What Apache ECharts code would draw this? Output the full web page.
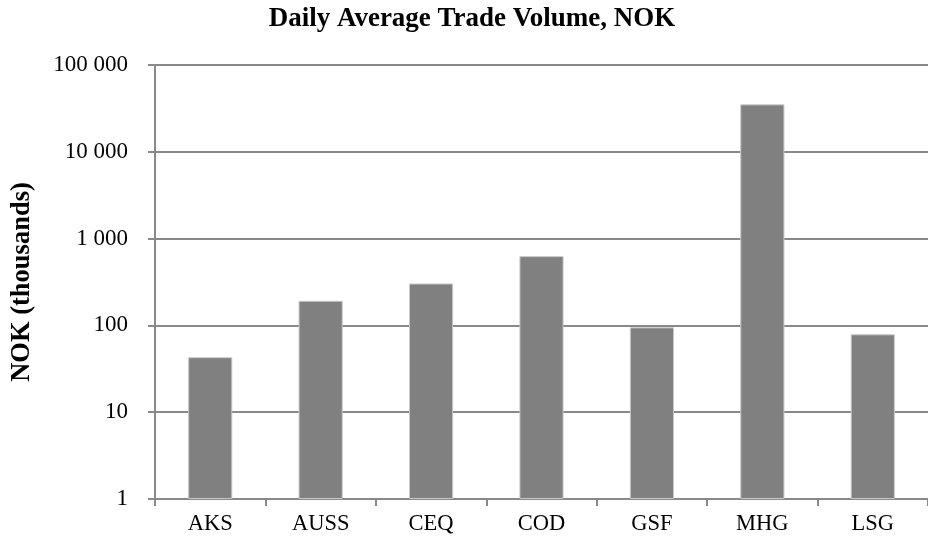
<!DOCTYPE html>
<html>
<head>
    <meta charset="utf-8">
    <title>Daily Average Trade Volume, NOK</title>
    <style>
        html, body { margin: 0; padding: 0; background: #fff; }
    </style>
</head>
<body>
    <div id="main" style="width:928px;height:545px"></div>
    <script src="https://cdn.jsdelivr.net/npm/echarts@6/dist/echarts.min.js"></script>
    <script type="text/javascript">

        // tickers
        const TICKERS = ['AKS', 'AUSS', 'CEQ', 'COD', 'GSF', 'MHG', 'LSG'];
        // daily average trade volume, NOK thousands
        const VOLUMES = [43, 192, 304, 628, 95, 35200, 79];

        const Y_MIN = 1;
        const Y_MAX = 100000;

        const FONT = '"Liberation Serif", "Times New Roman", serif';
        const GRID_COLOR = '#898989';

        function spaced(v) {
            return String(v).replace(/\B(?=(\d{3})+(?!\d))/g, ' ');
        }

        let myChart = echarts.init(document.getElementById('main'));

        const option = {
            backgroundColor: '#fff',
            animation: false,
            title: {
                text: 'Daily Average Trade Volume, NOK',
                left: 467,
                top: 1,
                textAlign: 'center',
                textStyle: {
                    fontFamily: FONT,
                    fontWeight: 'bold',
                    fontSize: 27,
                    color: '#000'
                }
            },
            grid: {
                left: 155,
                top: 65,
                width: 781,
                height: 434,
                containLabel: false
            },
            xAxis: {
                type: 'category',
                data: TICKERS,
                axisLine: {lineStyle: {color: GRID_COLOR, width: 2}},
                axisTick: {show: true, length: 7, lineStyle: {color: GRID_COLOR, width: 2}},
                axisLabel: {
                    margin: 14,
                    fontFamily: FONT,
                    fontSize: 22.5,
                    color: '#000'
                }
            },
            yAxis: {
                type: 'log',
                logBase: 10,
                min: Y_MIN,
                max: Y_MAX,
                name: 'NOK (thousands)',
                nameLocation: 'middle',
                nameRotate: 90,
                nameGap: 119,
                nameTextStyle: {
                    fontFamily: FONT,
                    fontWeight: 'bold',
                    fontSize: 26.5,
                    color: '#000'
                },
                axisLine: {show: true, lineStyle: {color: GRID_COLOR, width: 2}},
                axisTick: {show: true, length: 7, lineStyle: {color: GRID_COLOR, width: 2}},
                splitLine: {show: true, lineStyle: {color: GRID_COLOR, width: 2}},
                minorTick: {show: false},
                axisLabel: {
                    margin: 27,
                    fontFamily: FONT,
                    fontSize: 23,
                    color: '#000',
                    formatter: spaced
                }
            },
            series: [
                {
                    type: 'bar',
                    data: VOLUMES,
                    barWidth: '40%',
                    itemStyle: {
                        color: '#808080',
                        borderColor: '#c8c8c8',
                        borderWidth: 1
                    }
                }
            ]
        };

        myChart.setOption(option);

    </script>
</body>
</html>
